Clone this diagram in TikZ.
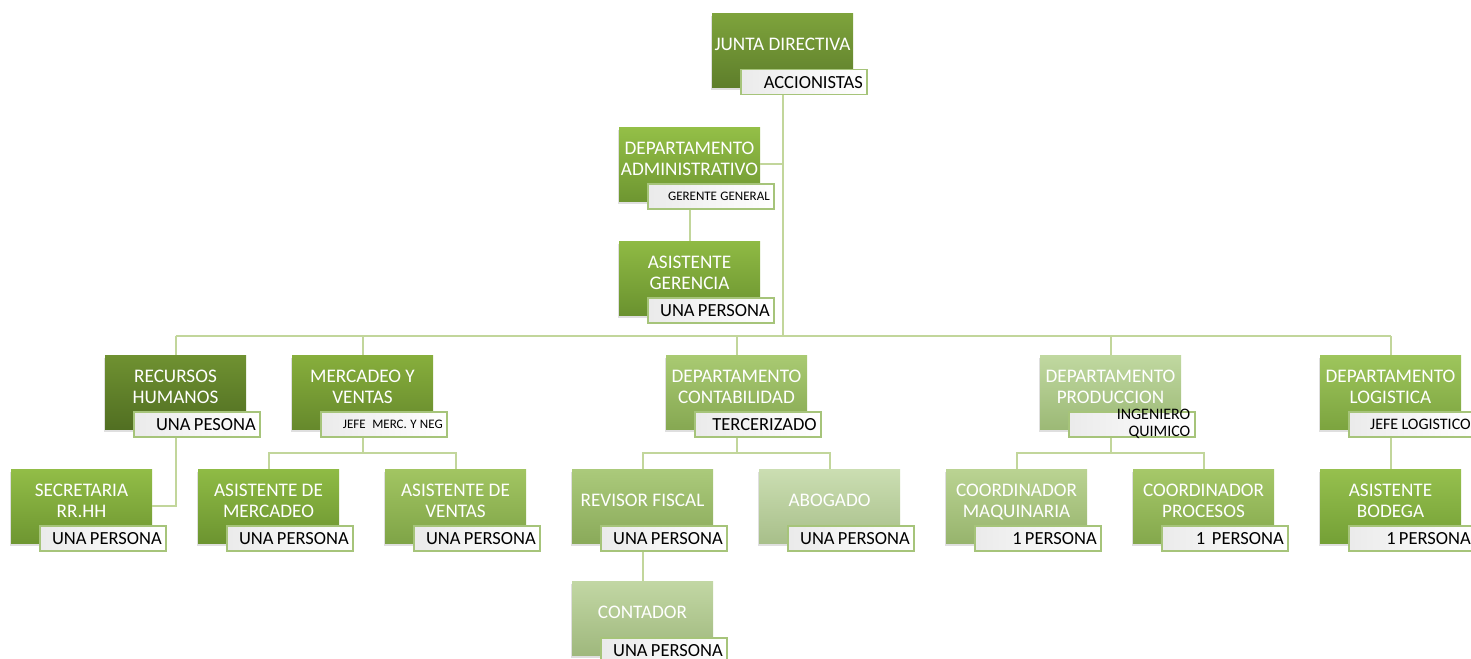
\documentclass[tikz,border=0pt]{standalone}
\usepackage{fontspec}
\setmainfont{Carlito}
\usetikzlibrary{shadows}
\definecolor{subborder}{HTML}{A6C47A}
\definecolor{connc}{HTML}{C2D69B}
\tikzset{
  mainbox/.style={anchor=north west, minimum width=141pt, minimum height=74pt, inner sep=0pt,
    drop shadow={shadow xshift=-1pt, shadow yshift=-3pt, opacity=0.25}},
  maintext/.style={text=white, align=center, inner sep=0pt, font=\fontsize{19.2}{21}\selectfont},
  subbox/.style={anchor=north west, minimum width=126pt, minimum height=25pt, text width=118pt,
    inner xsep=4pt, inner ysep=0pt, align=right, draw=subborder, line width=1.5pt,
    left color=black!8, right color=white, text=black},
  subtext/.style={text=black, align=right, inner xsep=5pt, inner ysep=0pt},
  conn/.style={draw=connc, line width=2pt}
}
\newcommand\orgunit[8]{%
  \definecolor{#1top}{HTML}{#4}\definecolor{#1bot}{HTML}{#5}%
  \node[mainbox, top color=#1top, bottom color=#1bot] (#1) at (#2,#3) {};
  \node[maintext] (#1t) at ({#2+70.5},{#3+31.5}) {#6};
  \node[subbox] (#1s) at ({#2+28},{#3+56}) {\fontsize{#8}{#8}\selectfont #7};
}
\begin{document}
\begin{tikzpicture}[x=1pt,y=-1pt]
\useasboundingbox (0,0) rectangle (1471,658);
\orgunit{junta}{712}{13}{7EA33C}{5E7E2B}{JUNTA DIRECTIVA}{ACCIONISTAS}{18.5}
\orgunit{admin}{619}{127}{94BF47}{6E9631}{DEPARTAMENTO\\ADMINISTRATIVO}{GERENTE GENERAL}{13}
\orgunit{asger}{619}{241}{8FBA44}{6A922F}{ASISTENTE\\GERENCIA}{UNA PERSONA}{18.5}
\orgunit{rrhh}{105}{355}{6F9131}{516F22}{RECURSOS\\HUMANOS}{UNA PESONA}{18.5}
\orgunit{merc}{292}{355}{87AE3C}{66892C}{MERCADEO Y\\VENTAS}{JEFE~~MERC. Y NEG}{13}
\orgunit{contab}{666}{355}{A9CA72}{86A852}{DEPARTAMENTO\\CONTABILIDAD}{TERCERIZADO}{18.5}
\orgunit{prod}{1040}{355}{C0D8A0}{9CB976}{DEPARTAMENTO\\PRODUCCION}{}{16}
\node[subtext, anchor=east, font=\fontsize{16}{17}\selectfont] (prodst) at (prods.east) {INGENIERO\\QUIMICO};
\orgunit{log}{1320}{355}{9EC55C}{7CA43F}{DEPARTAMENTO\\LOGISTICA}{JEFE LOGISTICO}{16}
\orgunit{sec}{11}{469}{92BD47}{6E9631}{SECRETARIA\\RR.HH}{UNA PERSONA}{18.5}
\orgunit{amerc}{198}{469}{8FBB45}{6C9430}{ASISTENTE DE\\MERCADEO}{UNA PERSONA}{18.5}
\orgunit{aven}{385}{469}{A2C562}{7FA447}{ASISTENTE DE\\VENTAS}{UNA PERSONA}{18.5}
\orgunit{rev}{572}{469}{ABCA7B}{8AAA5A}{REVISOR FISCAL}{UNA PERSONA}{18.5}
\orgunit{abo}{759}{469}{CBDEB2}{A8BF8A}{ABOGADO}{UNA PERSONA}{18.5}
\orgunit{cont}{572}{581}{C2D7A4}{9FB87D}{CONTADOR}{UNA PERSONA}{18.5}
\orgunit{maq}{946}{469}{BAD392}{97B46D}{COORDINADOR\\MA\smash{Q}UINARIA}{1 PERSONA}{18.5}
\orgunit{proc}{1133}{469}{A6C869}{84A84C}{COORDINADOR\\PROCESOS}{1~~PERSONA}{18.5}
\orgunit{bod}{1320}{469}{96C04E}{74A036}{ASISTENTE\\BODEGA}{1 PERSONA}{18.5}
% connectors
\coordinate (bus) at (783,336);
\coordinate (rowbus) at (0,453);
\draw[conn] (juntas.south -| bus) -- (bus);
\draw[conn] (admin.east) -- (admin.east -| bus);
\draw[conn] (admins.south -| admin) -- (asger.north);
\draw[conn] (rrhh.north |- bus) -- (log.north |- bus);
\foreach \n in {rrhh,merc,contab,prod,log} \draw[conn] (\n.north |- bus) -- (\n.north);
\draw[conn] (rrhhs.south -| rrhh) -- (rrhh |- sec.east) -- (sec.east);
\draw[conn] (mercs.south -| merc) -- (merc |- rowbus);
\draw[conn] (amerc.north) -- (amerc.north |- rowbus) -- (aven.north |- rowbus) -- (aven.north);
\draw[conn] (contabs.south -| contab) -- (contab |- rowbus);
\draw[conn] (rev.north) -- (rev.north |- rowbus) -- (abo.north |- rowbus) -- (abo.north);
\draw[conn] (revs.south -| rev) -- (cont.north);
\draw[conn] (prods.south -| prod) -- (prod |- rowbus);
\draw[conn] (maq.north) -- (maq.north |- rowbus) -- (proc.north |- rowbus) -- (proc.north);
\draw[conn] (logs.south -| log) -- (bod.north);
\end{tikzpicture}
\end{document}
